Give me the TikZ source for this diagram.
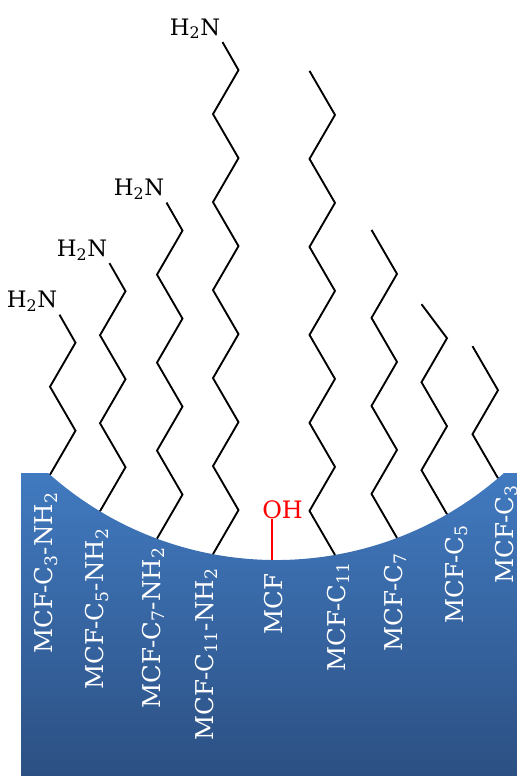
\documentclass[tikz,border=0pt]{standalone}
\usepackage{fontspec}
\setmainfont{DejaVu Serif}
\usepackage{tikz}
\definecolor{mcftop}{RGB}{65,122,192}
\definecolor{mcfbottom}{RGB}{44,80,131}
\tikzstyle{support}=[top color=mcftop, bottom color=mcfbottom]
\tikzstyle{alkyl}=[draw, line width=1.4pt]
\tikzstyle{amine}=[inner sep=0pt, anchor=base east, font=\fontsize{17}{20}\selectfont]
\tikzstyle{slabel}=[inner sep=0pt, rotate=90, anchor=base east, text=white, font=\fontsize{18.4}{22}\selectfont]
\tikzstyle{hydroxyl}=[inner sep=0pt, anchor=base west, text=red, font=\fontsize{18}{22}\selectfont]
\tikzstyle{ohbond}=[draw=red, line width=1.1pt]

\begin{document}
\begin{tikzpicture}[x=0.75pt, y=-0.75pt]
        \useasboundingbox (0,0) rectangle (517,776);
        \clip (0,0) rectangle (517,776);
        % pore wall
        \path[support] (21,473) -- (48.1,473) arc[start angle=131.8, end angle=48.2, radius=342]
            -- (517,473) -- (517,776) -- (21,776) -- cycle;
        % anchor points on the wall
        \coordinate (s1) at (50,474.7);
        \coordinate (s2) at (100,511.2);
        \coordinate (s3) at (157,538.6);
        \coordinate (s4) at (213,554.1);
        \coordinate (s5) at (272,560);
        \coordinate (s6) at (335,554.9);
        \coordinate (s7) at (397,537.9);
        \coordinate (s8) at (447,514.2);
        \coordinate (s9) at (498,478.2);
        % amine chains
        \draw[alkyl] (s1) -- ++(25.5,-44) -- ++(-25.5,-44) -- ++(25.5,-44) -- ++(-16,-28) coordinate (t1);
        \draw[alkyl] (s2) -- ++(25.5,-44) -- ++(-25.5,-44) -- ++(25.5,-44) -- ++(-25.5,-44) -- ++(25.5,-44)
            -- ++(-16,-28) coordinate (t2);
        \draw[alkyl] (s3) -- ++(25.5,-44) -- ++(-25.5,-44) -- ++(25.5,-44) -- ++(-25.5,-44) -- ++(25.5,-44)
            -- ++(-25.5,-44) -- ++(25.5,-44) -- ++(-16,-28) coordinate (t3);
        \draw[alkyl] (s4) -- ++(25.5,-44) -- ++(-25.5,-44) -- ++(25.5,-44) -- ++(-25.5,-44) -- ++(25.5,-44)
            -- ++(-25.5,-44) -- ++(25.5,-44) -- ++(-25.5,-44) -- ++(25.5,-44) -- ++(-25.5,-44) -- ++(25.5,-44)
            -- ++(-16,-28) coordinate (t4);
        \node[amine] (n1) at ([shift={(-2,-7)}]t1) {H\textsubscript{2}N};
        \node[amine] (n2) at ([shift={(-2,-7)}]t2) {H\textsubscript{2}N};
        \node[amine] (n3) at ([shift={(-2,-7)}]t3) {H\textsubscript{2}N};
        \node[amine] (n4) at ([shift={(-2,-7)}]t4) {H\textsubscript{2}N};
        % bare silanol
        \node[hydroxyl] (oh) at (262,518) {OH};
        \draw[ohbond] (s5) -- (s5 |- oh.south);
        % alkyl chains
        \draw[alkyl] (s6) -- ++(-25.5,-44) -- ++(25.5,-44) -- ++(-25.5,-44) -- ++(25.5,-44) -- ++(-25.5,-44)
            -- ++(25.5,-44) -- ++(-25.5,-44) -- ++(25.5,-44) -- ++(-25.5,-44) -- ++(25.5,-44) -- ++(-25.5,-44);
        \draw[alkyl] (s7) -- ++(-25.5,-44) -- ++(25.5,-44) -- ++(-25.5,-44) -- ++(25.5,-44) -- ++(-25.5,-44)
            -- ++(25.5,-44) -- ++(-25.5,-44);
        \draw[alkyl] (s8) -- ++(-25.5,-44) -- ++(25.5,-44) -- ++(-25.5,-44) -- ++(25.5,-44) -- ++(-25.5,-34);
        \draw[alkyl] (s9) -- ++(-25.5,-44) -- ++(25.5,-44) -- ++(-25.5,-44);
        % names along the wall
        \node[slabel] (l1) at (52.5,492) {MCF-C\textsubscript{3}-NH\textsubscript{2}};
        \node[slabel] (l2) at (103.5,528) {MCF-C\textsubscript{5}-NH\textsubscript{2}};
        \node[slabel] (l3) at (160,547) {MCF-C\textsubscript{7}-NH\textsubscript{2}};
        \node[slabel] (l4) at (213,568) {MCF-C\textsubscript{11}-NH\textsubscript{2}};
        \node[slabel] (l5) at (282.5,573) {MCF};
        \node[slabel] (l6) at (345,562) {MCF-C\textsubscript{11}};
        \node[slabel] (l7) at (402,553) {MCF-C\textsubscript{7}};
        \node[slabel] (l8) at (463,525) {MCF-C\textsubscript{5}};
        \node[slabel] (l9) at (513,485) {MCF-C\textsubscript{3}};
    \end{tikzpicture}
\end{document}
